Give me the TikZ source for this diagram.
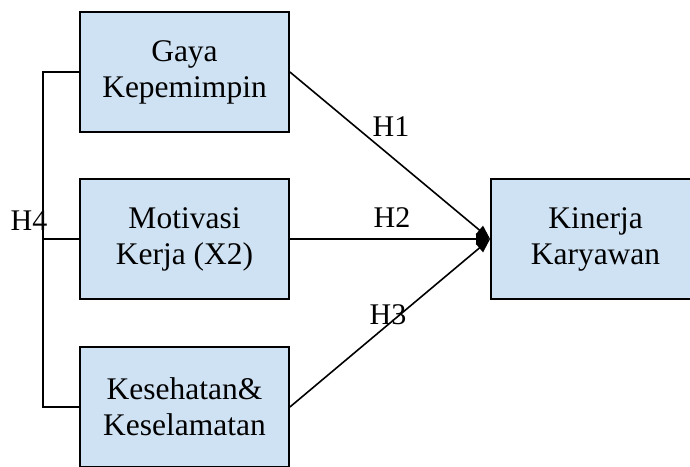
\documentclass[tikz,border=0pt]{standalone}
\usepackage{fontspec}
\setmainfont{Liberation Serif}
\usetikzlibrary{arrows.meta}
\definecolor{boxblue}{RGB}{207,226,243}
\begin{document}
\begin{tikzpicture}[x=1pt,y=-1pt,
  varbox/.style={draw=black,line width=1.8pt,fill=boxblue,minimum width=209pt,minimum height=120pt,
    inner sep=0pt,align=center,font=\fontsize{31.5}{36}\selectfont},
  lbl/.style={font=\fontsize{30}{34}\selectfont,inner sep=0pt},
  link/.style={line width=1.8pt},
  arr/.style={line width=1.6pt,-{Triangle[length=14pt,width=11pt]}}]
\useasboundingbox (0,0) rectangle (690,466);
\node[varbox] (g) at (184.5,72) {Gaya\\Kepemimpin};
\node[varbox] (m) at (184.5,239) {Motivasi\\Kerja (X2)};
\node[varbox] (k) at (184.5,407) {Kesehatan\&\\Keselamatan};
\node[varbox] (y) at (595.5,239) {Kinerja\\Karyawan};
\coordinate (bx) at (43,239);
\draw[link] (g.west) -| (bx) |- (k.west);
\draw[link] (m.west) -- (bx);
\draw[arr] (g.east) -- (y.west);
\draw[arr] (m.east) -- (y.west);
\draw[arr] (k.east) -- (y.west);
\node[lbl] (h1) at (391,127) {H1};
\node[lbl] (h2) at (392,218) {H2};
\node[lbl] (h3) at (388,315) {H3};
\node[lbl] (h4) at (29,221) {H4};
\end{tikzpicture}
\end{document}
